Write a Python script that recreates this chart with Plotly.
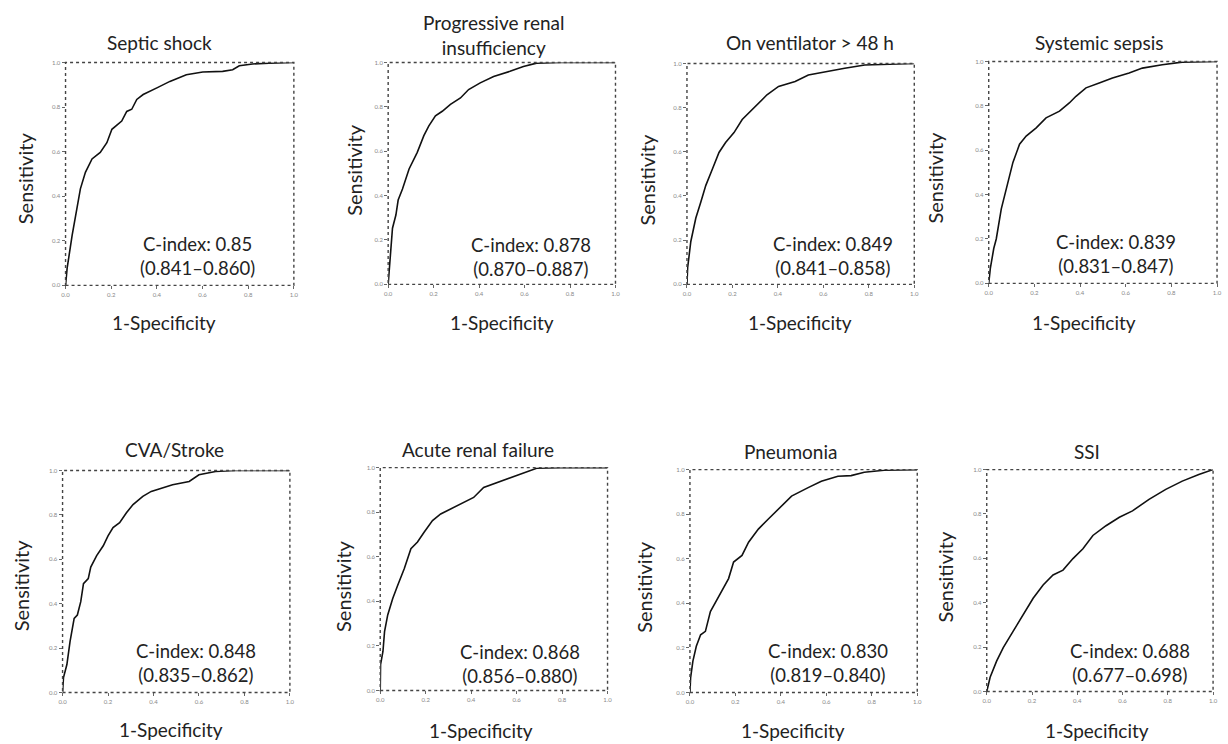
import plotly.graph_objects as go

W, H = 1228, 744

titles = ["Septic shock", "Progressive renal<br>insufficiency", "On ventilator > 48 h", "Systemic sepsis",
          "CVA/Stroke", "Acute renal failure", "Pneumonia", "SSI"]
c_index = ["C-index: 0.85<br>(0.841–0.860)", "C-index: 0.878<br>(0.870–0.887)",
           "C-index: 0.849<br>(0.841–0.858)", "C-index: 0.839<br>(0.831–0.847)",
           "C-index: 0.848<br>(0.835–0.862)", "C-index: 0.868<br>(0.856–0.880)",
           "C-index: 0.830<br>(0.819–0.840)", "C-index: 0.688<br>(0.677–0.698)"]
tick_vals = [0.0, 0.2, 0.4, 0.6, 0.8, 1.0]
tick_text = ["0.0", "0.2", "0.4", "0.6", "0.8", "1.0"]

fpr_septic = [0, 0.007, 0.029, 0.043, 0.065, 0.087, 0.116, 0.152, 0.181, 0.203, 0.246, 0.268, 0.29, 0.312, 0.34, 0.40, 0.457, 0.529, 0.601, 0.688, 0.732, 0.761, 0.819, 0.891, 1.0]
tpr_septic = [0, 0.077, 0.225, 0.30, 0.433, 0.507, 0.567, 0.596, 0.64, 0.70, 0.737, 0.78, 0.79, 0.834, 0.856, 0.886, 0.915, 0.945, 0.957, 0.96, 0.967, 0.985, 0.993, 0.997, 1.0]

fpr_renal_ins = [0, 0.007, 0.019, 0.034, 0.044, 0.063, 0.092, 0.128, 0.157, 0.179, 0.208, 0.238, 0.274, 0.318, 0.354, 0.405, 0.464, 0.536, 0.595, 0.653, 0.755, 1.0]
tpr_renal_ins = [0, 0.104, 0.253, 0.3125, 0.38, 0.43, 0.52, 0.595, 0.67, 0.714, 0.759, 0.78, 0.811, 0.84, 0.878, 0.908, 0.937, 0.96, 0.982, 0.997, 1.0, 1.0]

fpr_vent = [0, 0.003, 0.017, 0.039, 0.061, 0.083, 0.112, 0.141, 0.17, 0.207, 0.243, 0.28, 0.316, 0.352, 0.403, 0.476, 0.534, 0.607, 0.694, 0.782, 0.869, 1.0]
tpr_vent = [0, 0.075, 0.194, 0.30, 0.373, 0.448, 0.522, 0.597, 0.642, 0.687, 0.746, 0.784, 0.821, 0.858, 0.896, 0.918, 0.948, 0.963, 0.978, 0.993, 0.997, 1.0]

fpr_sepsis = [0, 0.007, 0.022, 0.033, 0.055, 0.077, 0.106, 0.135, 0.164, 0.208, 0.251, 0.31, 0.353, 0.382, 0.426, 0.484, 0.542, 0.615, 0.673, 0.76, 0.847, 1.0]
tpr_sepsis = [0, 0.067, 0.157, 0.20, 0.336, 0.425, 0.545, 0.627, 0.664, 0.701, 0.746, 0.776, 0.813, 0.843, 0.881, 0.903, 0.925, 0.948, 0.97, 0.985, 0.997, 1.0]

fpr_cva = [0, 0.004, 0.019, 0.033, 0.051, 0.065, 0.08, 0.092, 0.113, 0.124, 0.15, 0.179, 0.2, 0.222, 0.251, 0.281, 0.31, 0.353, 0.39, 0.44, 0.484, 0.557, 0.6, 0.673, 0.76, 1.0]
tpr_cva = [0, 0.067, 0.126, 0.23, 0.334, 0.349, 0.409, 0.49, 0.513, 0.565, 0.617, 0.661, 0.706, 0.743, 0.765, 0.81, 0.847, 0.884, 0.906, 0.921, 0.936, 0.951, 0.981, 0.996, 1.0, 1.0]

fpr_arf = [0, 0.0015, 0.012, 0.019, 0.033, 0.055, 0.077, 0.106, 0.135, 0.164, 0.193, 0.23, 0.266, 0.31, 0.368, 0.411, 0.455, 0.513, 0.571, 0.629, 0.688, 0.79, 1.0]
tpr_arf = [0, 0.116, 0.175, 0.264, 0.339, 0.413, 0.472, 0.547, 0.636, 0.666, 0.71, 0.762, 0.792, 0.814, 0.844, 0.866, 0.911, 0.933, 0.955, 0.978, 0.997, 1.0, 1.0]

fpr_pneu = [0, 0.003, 0.013, 0.028, 0.047, 0.068, 0.09, 0.119, 0.141, 0.17, 0.192, 0.229, 0.258, 0.301, 0.345, 0.389, 0.447, 0.52, 0.578, 0.651, 0.709, 0.767, 0.854, 1.0]
tpr_pneu = [0, 0.067, 0.141, 0.207, 0.259, 0.274, 0.363, 0.415, 0.459, 0.511, 0.585, 0.615, 0.674, 0.733, 0.778, 0.822, 0.881, 0.919, 0.948, 0.97, 0.973, 0.988, 0.997, 1.0]

fpr_ssi = [0, 0.015, 0.044, 0.073, 0.117, 0.161, 0.205, 0.249, 0.293, 0.337, 0.381, 0.425, 0.469, 0.527, 0.586, 0.644, 0.717, 0.791, 0.864, 0.937, 1.0]
tpr_ssi = [0, 0.064, 0.138, 0.198, 0.272, 0.346, 0.42, 0.48, 0.525, 0.547, 0.599, 0.643, 0.703, 0.747, 0.785, 0.814, 0.866, 0.911, 0.948, 0.978, 1.0]

curves = [(fpr_septic, tpr_septic), (fpr_renal_ins, tpr_renal_ins), (fpr_vent, tpr_vent), (fpr_sepsis, tpr_sepsis),
          (fpr_cva, tpr_cva), (fpr_arf, tpr_arf), (fpr_pneu, tpr_pneu), (fpr_ssi, tpr_ssi)]

# layout (pixel positions)
plot_boxes = [(62, 292, 59, 284), (387, 616, 59, 283), (688, 917, 60, 283), (992, 1222, 58, 282),
              (59, 288, 471, 695), (379, 608, 468, 693), (691, 920, 470, 695), (990, 1218, 470, 694)]
title_pos = [(157, 39), (493, 31), (812, 39), (1104, 39), (172, 450), (478, 450), (792, 452), (1091, 452)]
ylab_pos = [(21, 176), (353, 167), (648, 177), (938, 175), (18, 587), (342, 587), (645, 588), (948, 578)]
xlab_pos = [(161, 322), (502, 322), (802, 322), (1088, 322), (168, 732), (481, 733), (795, 733), (1101, 733)]
cidx_pos = [(195, 254), (531, 255), (835, 254), (1120, 252), (193, 665), (520, 666), (830, 665), (1134, 665)]

FONT = "Lato, 'Open Sans', sans-serif"
TXT = "#222222"

def px(x):
    return x / W

def py(y):
    return 1 - y / H

fig = go.Figure()
annotations = []
shapes = []
for i, ((fx, ty), (l, r, t, b)) in enumerate(zip(curves, plot_boxes)):
    n = i + 1
    xa = "x" if n == 1 else f"x{n}"
    ya = "y" if n == 1 else f"y{n}"
    fig.add_trace(go.Scatter(x=fx, y=ty, mode="lines", line=dict(color="#111111", width=1.6),
                             xaxis=xa, yaxis=ya, showlegend=False, hoverinfo="skip"))
    axis_common = dict(range=[0, 1], tickvals=tick_vals, ticktext=tick_text, ticks="outside", ticklen=3,
                       tickcolor="#666666", tickfont=dict(size=6, color="#888888", family=FONT),
                       showgrid=False, zeroline=False, showline=False, fixedrange=True)
    fig.update_layout(**{
        ("xaxis" if n == 1 else f"xaxis{n}"): dict(domain=[px(l), px(r)], anchor=ya, **axis_common),
        ("yaxis" if n == 1 else f"yaxis{n}"): dict(domain=[py(b), py(t)], anchor=xa, **axis_common),
    })
    shapes.append(dict(type="rect", xref=f"{xa} domain", yref=f"{ya} domain", x0=0, x1=1, y0=0, y1=1,
                       line=dict(color="#444444", width=1.4, dash="dot"), layer="above"))
    tx, tyy = title_pos[i]
    annotations.append(dict(text=titles[i], x=px(tx), y=py(tyy), xref="paper", yref="paper",
                            showarrow=False, xanchor="center", yanchor="middle",
                            font=dict(size=19, color=TXT, family=FONT)))
    lx, lyy = ylab_pos[i]
    annotations.append(dict(text="Sensitivity", x=px(lx), y=py(lyy), xref="paper", yref="paper",
                            showarrow=False, xanchor="center", yanchor="middle", textangle=-90,
                            font=dict(size=20, color=TXT, family=FONT)))
    bx, byy = xlab_pos[i]
    annotations.append(dict(text="1-Specificity", x=px(bx), y=py(byy), xref="paper", yref="paper",
                            showarrow=False, xanchor="center", yanchor="middle",
                            font=dict(size=19, color=TXT, family=FONT)))
    cx, cyy = cidx_pos[i]
    annotations.append(dict(text=c_index[i], x=px(cx), y=py(cyy), xref="paper", yref="paper",
                            showarrow=False, xanchor="center", yanchor="middle",
                            font=dict(size=18.5, color=TXT, family=FONT)))

fig.update_layout(width=W, height=H, margin=dict(l=0, r=0, t=0, b=0),
                  paper_bgcolor="white", plot_bgcolor="white",
                  annotations=annotations, shapes=shapes)

fig.write_html("out.html", include_plotlyjs=True, config={"displayModeBar": False},
               post_script="document.body.style.margin='0px';document.body.style.overflow='hidden';")
